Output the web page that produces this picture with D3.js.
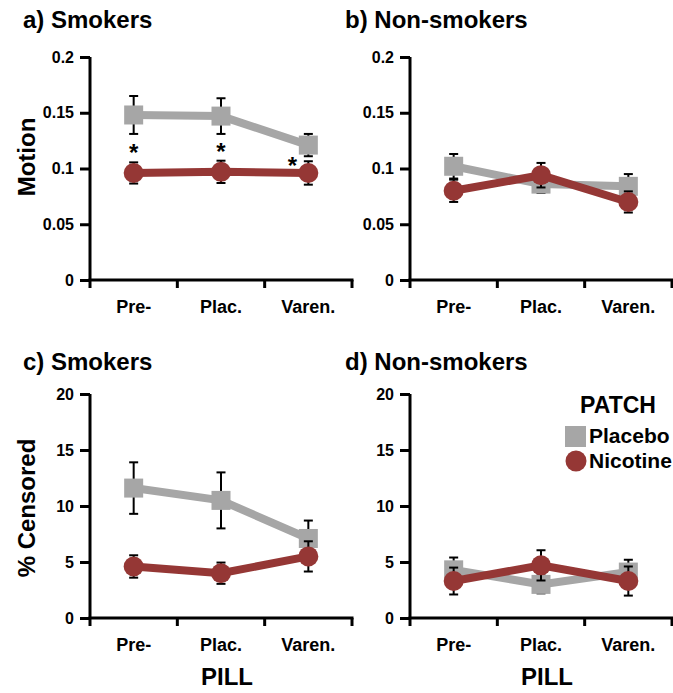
<!DOCTYPE html>
<html>
<head>
<meta charset="utf-8">
<script src="https://cdn.jsdelivr.net/npm/d3@7"></script>
<style>
  html, body { margin: 0; padding: 0; background: #fff; }
  svg { display: block; font-family: "Liberation Sans", Arial, sans-serif; font-weight: bold; }
</style>
</head>
<body>
<svg id="chart" width="673" height="693"></svg>
<script>
// PILL conditions on the x axis
const pills = ["Pre-", "Plac.", "Varen."];

// Motion, smokers
const motionSmokersPlacebo = [0.148, 0.147, 0.121];
const motionSmokersPlaceboErr = [0.017, 0.016, 0.010];
const motionSmokersNicotine = [0.096, 0.097, 0.096];
const motionSmokersNicotineErr = [0.0095, 0.010, 0.0105];

// Motion, non-smokers
const motionNonPlacebo = [0.102, 0.086, 0.084];
const motionNonPlaceboErr = [0.011, 0.008, 0.011];
const motionNonNicotine = [0.080, 0.094, 0.070];
const motionNonNicotineErr = [0.010, 0.011, 0.0095];

// % Censored, smokers
const censSmokersPlacebo = [11.6, 10.5, 7.1];
const censSmokersPlaceboErr = [2.3, 2.5, 1.6];
const censSmokersNicotine = [4.6, 4.0, 5.5];
const censSmokersNicotineErr = [1.0, 0.95, 1.35];

// % Censored, non-smokers
const censNonPlacebo = [4.3, 3.0, 4.1];
const censNonPlaceboErr = [1.1, 0.8, 1.1];
const censNonNicotine = [3.3, 4.7, 3.3];
const censNonNicotineErr = [1.2, 1.35, 1.3];

// Axis ticks
const motionTicks = [0, 0.05, 0.1, 0.15, 0.2];
const motionTickLabels = ["0", "0.05", "0.1", "0.15", "0.2"];
const censTicks = [0, 5, 10, 15, 20];
const censTickLabels = ["0", "5", "10", "15", "20"];

// Significance markers (smokers, motion)
const sigPills = ["Pre-", "Plac.", "Varen."];

const seriesNames = ["Placebo", "Nicotine"];
const GRAY = "#a6a6a6";
const RED = "#953735";

const svg = d3.select("#chart");

function panel(opts) {
  const g = svg.append("g");
  const x = d3.scaleBand().domain(pills).range([opts.x0, opts.x0 + 262]).padding(0);
  const y = d3.scaleLinear().domain([0, opts.max]).range([opts.yBottom, opts.yTop]);
  const cx = d => x(d) + x.bandwidth() / 2;

  // title
  g.append("text").attr("x", opts.titleX).attr("y", opts.titleY)
    .attr("font-size", 24).attr("fill", "#000").text(opts.title);

  // y axis
  const yAxis = d3.axisLeft(y).tickValues(opts.ticks)
    .tickFormat((d, i) => opts.tickLabels[i]).tickSize(10).tickPadding(6);
  const ya = g.append("g").attr("transform", `translate(${opts.x0},0)`).call(yAxis);
  ya.select(".domain").attr("stroke", "#000").attr("stroke-width", 3)
    .attr("d", `M0,${opts.yTop}V${opts.yBottom}`);
  ya.selectAll(".tick line").attr("stroke", "#000").attr("stroke-width", 3);
  ya.selectAll(".tick text").attr("font-size", 16).attr("font-weight", "bold")
    .attr("font-family", "Liberation Sans, Arial, sans-serif").attr("fill", "#000");

  // x axis: ticks at category boundaries, labels centred
  const xa = g.append("g");
  xa.append("line").attr("x1", opts.x0 - 1.5).attr("x2", opts.x0 + 262 + 1.5)
    .attr("y1", opts.yBottom).attr("y2", opts.yBottom)
    .attr("stroke", "#000").attr("stroke-width", 3);
  const bounds = pills.map(p => x(p)).concat([x(pills[pills.length - 1]) + x.bandwidth()]);
  xa.selectAll("line.xt").data(bounds).join("line").attr("class", "xt")
    .attr("x1", d => d).attr("x2", d => d)
    .attr("y1", opts.yBottom).attr("y2", opts.yBottom + 8)
    .attr("stroke", "#000").attr("stroke-width", 3);
  xa.selectAll("text").data(pills).join("text")
    .attr("x", d => cx(d)).attr("y", opts.yBottom + 33)
    .attr("text-anchor", "middle").attr("font-size", 18).text(d => d);

  // y label
  if (opts.yLabel) {
    g.append("text").attr("transform", `translate(35,${opts.yLabelY}) rotate(-90)`)
      .attr("text-anchor", "middle").attr("font-size", 24).text(opts.yLabel);
  }
  if (opts.xLabel) {
    g.append("text").attr("x", opts.x0 + 137).attr("y", 685)
      .attr("text-anchor", "middle").attr("font-size", 24).text(opts.xLabel);
  }

  const series = [
    { vals: opts.placebo, err: opts.placeboErr, color: GRAY, shape: "square" },
    { vals: opts.nicotine, err: opts.nicotineErr, color: RED, shape: "circle" }
  ];

  series.forEach(s => {
    const pts = pills.map((p, i) => ({ p, v: s.vals[i], e: s.err[i] }));
    const eg = g.append("g");
    eg.selectAll("line.v").data(pts).join("line").attr("class", "v")
      .attr("x1", d => cx(d.p)).attr("x2", d => cx(d.p))
      .attr("y1", d => y(d.v - d.e)).attr("y2", d => y(d.v + d.e))
      .attr("stroke", "#000").attr("stroke-width", 2);
    [-1, 1].forEach(sgn => {
      eg.selectAll("line.c" + (sgn > 0 ? "t" : "b")).data(pts).join("line")
        .attr("class", "c" + (sgn > 0 ? "t" : "b"))
        .attr("x1", d => cx(d.p) - 4.5).attr("x2", d => cx(d.p) + 4.5)
        .attr("y1", d => y(d.v + sgn * d.e)).attr("y2", d => y(d.v + sgn * d.e))
        .attr("stroke", "#000").attr("stroke-width", 2);
    });
    g.append("path").datum(pts)
      .attr("d", d3.line().x(d => cx(d.p)).y(d => y(d.v)))
      .attr("fill", "none").attr("stroke", s.color).attr("stroke-width", 8);
    if (s.shape === "square") {
      g.selectAll(null).data(pts).join("rect")
        .attr("x", d => cx(d.p) - 9.5).attr("y", d => y(d.v) - 9.5)
        .attr("width", 19).attr("height", 19).attr("fill", s.color);
    } else {
      g.selectAll(null).data(pts).join("circle")
        .attr("cx", d => cx(d.p)).attr("cy", d => y(d.v)).attr("r", 10)
        .attr("fill", s.color);
    }
  });

  if (opts.sig) {
    opts.sig.forEach(p => {
      const i = pills.indexOf(p);
      const top = y(opts.nicotine[i] + opts.nicotineErr[i]);
      const bot = y(opts.placebo[i] - opts.placeboErr[i]);
      const last = i === pills.length - 1;
      const yc = (top + bot) / 2 + (last ? 2 : 0);
      g.append("text").attr("x", cx(p) + (last ? -16 : 0)).attr("y", yc + 13)
        .attr("text-anchor", "middle").attr("font-size", 24).text("*");
    });
  }

  if (opts.legend) {
    const lg = g.append("g");
    lg.append("text").attr("x", 618).attr("y", 413).attr("text-anchor", "middle")
      .attr("font-size", 23).text("PATCH");
    lg.append("rect").attr("x", 565).attr("y", 426).attr("width", 21).attr("height", 21).attr("fill", GRAY);
    lg.append("circle").attr("cx", 576).attr("cy", 461).attr("r", 10.5).attr("fill", RED);
    lg.append("text").attr("x", 589).attr("y", 443).attr("font-size", 21).text(seriesNames[0]);
    lg.append("text").attr("x", 589).attr("y", 468).attr("font-size", 21).text(seriesNames[1]);
  }
}

panel({ x0: 90, yTop: 57, yBottom: 280, max: 0.2, ticks: motionTicks, tickLabels: motionTickLabels,
  title: "a) Smokers", titleX: 23, titleY: 28, yLabel: "Motion", yLabelY: 157,
  placebo: motionSmokersPlacebo, placeboErr: motionSmokersPlaceboErr,
  nicotine: motionSmokersNicotine, nicotineErr: motionSmokersNicotineErr, sig: sigPills });

panel({ x0: 410, yTop: 57, yBottom: 280, max: 0.2, ticks: motionTicks, tickLabels: motionTickLabels,
  title: "b) Non-smokers", titleX: 345, titleY: 28,
  placebo: motionNonPlacebo, placeboErr: motionNonPlaceboErr,
  nicotine: motionNonNicotine, nicotineErr: motionNonNicotineErr });

panel({ x0: 90, yTop: 394, yBottom: 618, max: 20, ticks: censTicks, tickLabels: censTickLabels,
  title: "c) Smokers", titleX: 23, titleY: 370, yLabel: "% Censored", yLabelY: 508, xLabel: "PILL",
  placebo: censSmokersPlacebo, placeboErr: censSmokersPlaceboErr,
  nicotine: censSmokersNicotine, nicotineErr: censSmokersNicotineErr });

panel({ x0: 410, yTop: 394, yBottom: 618, max: 20, ticks: censTicks, tickLabels: censTickLabels,
  title: "d) Non-smokers", titleX: 345, titleY: 370, xLabel: "PILL",
  placebo: censNonPlacebo, placeboErr: censNonPlaceboErr,
  nicotine: censNonNicotine, nicotineErr: censNonNicotineErr, legend: true });
</script>
</body>
</html>
